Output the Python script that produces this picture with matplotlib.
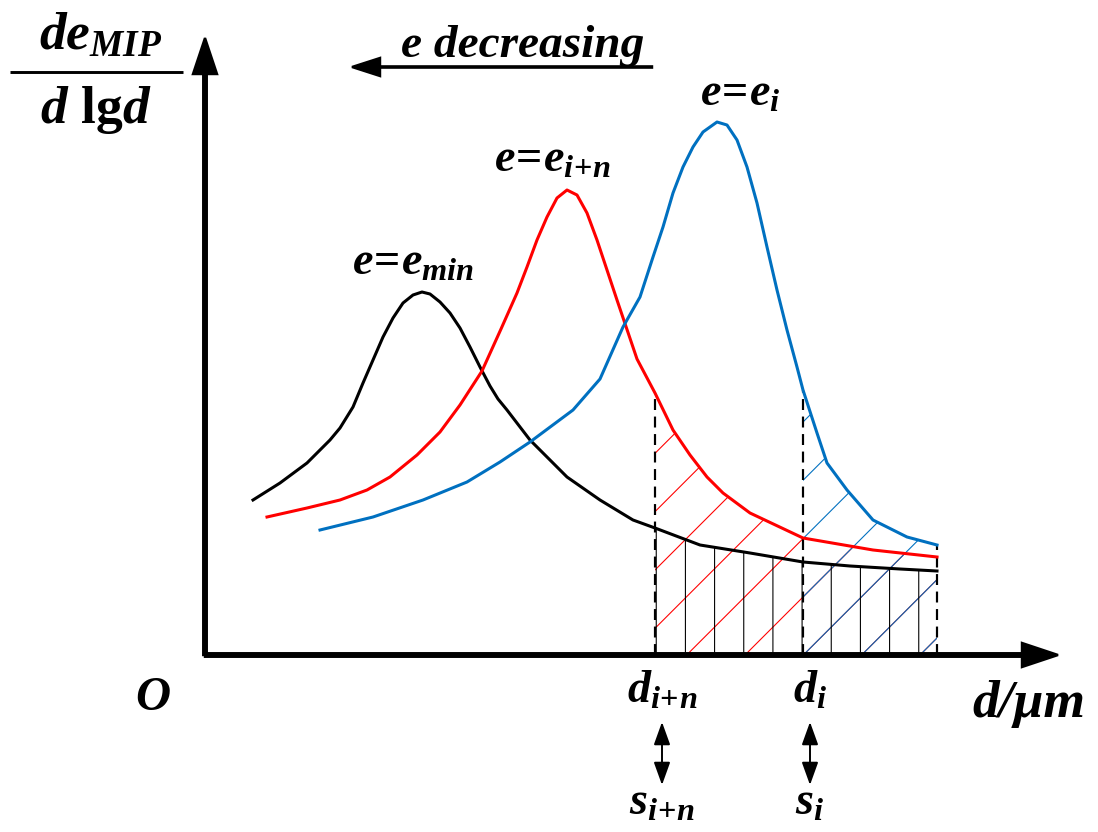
import numpy as np
import matplotlib
matplotlib.use("Agg")
from matplotlib import pyplot as plt

# schematic curves, x/y in drawing units (origin at the axes corner)
black_x = [48, 75, 102, 125, 135, 148, 158, 168, 178, 188, 198, 208, 217, 225, 235, 245,
           255, 265, 275, 285, 293, 302, 325, 362, 395, 428, 450, 495, 545, 598, 645,
           695, 732]
black_y = [155, 172, 192, 215, 227, 248, 272, 295, 318, 337, 352, 360, 363, 361, 353, 342,
           327, 308, 288, 269, 256, 245, 215, 178, 155, 135, 127, 110, 102, 93, 89,
           86, 84]

red_x = [62, 102, 135, 162, 185, 212, 235, 255, 277, 296, 312, 322, 332, 342, 352, 362,
         372, 382, 392, 402, 412, 432, 450, 468, 485, 502, 518, 545, 598, 668, 732]
red_y = [138, 147, 155, 165, 178, 200, 223, 250, 284, 326, 362, 388, 415, 438, 457, 465,
         460, 442, 415, 385, 355, 296, 262, 225, 200, 178, 162, 142, 117, 105, 98]

blue_x = [115, 168, 218, 262, 295, 325, 368, 395, 418, 435, 448, 458, 468, 478, 488, 498,
          512, 522, 532, 542, 552, 562, 572, 582, 592, 598, 612, 622, 642, 668, 702, 732]
blue_y = [125, 138, 155, 173, 193, 213, 245, 276, 328, 358, 398, 428, 462, 488, 508, 523,
          533, 530, 515, 488, 452, 408, 365, 325, 288, 265, 222, 192, 165, 135, 118, 110]

d_i_n = 450   # d_{i+n}
d_i = 598     # d_i
d_end = 732

RED = "#FF0000"
BLUE = "#0070C0"

plt.rcParams.update({
    "font.family": ["Liberation Serif", "DejaVu Serif"],
    "font.weight": "bold",
    "font.style": "normal",
    "mathtext.fontset": "custom",
    "mathtext.rm": "Liberation Serif:style=normal:weight=bold",
    "mathtext.it": "Liberation Serif:style=italic:weight=bold",
    "mathtext.bf": "Liberation Serif:style=normal:weight=bold",
    "hatch.linewidth": 0.45,
})
IT = dict(fontstyle="italic", fontweight="bold")

fig = plt.figure(figsize=(1098 / 175, 832 / 175), dpi=175)
ax = fig.add_axes([0, 0, 1, 1])
ax.set_xlim(-205, 893)
ax.set_ylim(-177, 655)
ax.axis("off")

bx, by = np.array(black_x), np.array(black_y)
rx, ry = np.array(red_x), np.array(red_y)
ux, uy = np.array(blue_x), np.array(blue_y)


def hatch_under(x, y, lo, hi, color, hatch):
    m = (x >= lo) & (x <= hi)
    xs, ys = x[m], y[m]
    px = np.r_[xs, xs[::-1]]
    py = np.r_[ys, np.zeros(len(xs))]
    ax.fill(px, py, facecolor="none", edgecolor=color, linewidth=0, hatch=hatch, zorder=1)


# hatched areas
hatch_under(rx, ry, d_i_n, d_end, RED, "/")
hatch_under(ux, uy, d_i, d_end, BLUE, "/")
hatch_under(bx, by, d_i_n, d_end, "black", "|")

# dashed boundaries
for xv, yt in [(d_i_n, np.interp(d_i_n, rx, ry)), (d_i, np.interp(d_i, ux, uy)),
               (d_end, np.interp(d_end, ux, uy))]:
    ax.plot([xv, xv], [0, yt], color="black", lw=0.9, ls=(0, (5, 3)), zorder=2)

# curves
ax.plot(bx, by, color="black", lw=1.25, zorder=3, solid_joinstyle="round")
ax.plot(rx, ry, color=RED, lw=1.25, zorder=3, solid_joinstyle="round")
ax.plot(ux, uy, color=BLUE, lw=1.25, zorder=3, solid_joinstyle="round")

# axes with arrows
ax.arrow(0, 0, 0, 617, width=3.5, head_width=24, head_length=36,
         length_includes_head=True, color="black", zorder=4)
ax.arrow(0, 0, 853, 0, width=3.5, head_width=24, head_length=36,
         length_includes_head=True, color="black", zorder=4)

# "e decreasing" arrow
ax.arrow(447, 588, -300, 0, width=1.2, head_width=18, head_length=28,
         length_includes_head=True, color="black")
ax.text(318, 598, "e decreasing", fontsize=19.5, ha="center", va="baseline", **IT)

# curve labels
ax.text(495, 549, r"$e\!=\!e_i$", fontsize=19, ha="left", va="baseline")
ax.text(289, 483, r"$e\!=\!e_{i\!+\!n}$", fontsize=19, ha="left", va="baseline")
ax.text(147, 380, r"$e\!=\!e_{min}$", fontsize=19, ha="left", va="baseline")

# y label as a fraction
ax.text(-104, 605, r"$de_{MIP}$", fontsize=22, ha="center", va="baseline")
ax.text(-109, 532, r"$d\ \mathrm{lg}d$", fontsize=22, ha="center", va="baseline")
ax.plot([-195, -22], [583, 583], color="black", lw=1.2, solid_capstyle="butt")

# origin and x label
ax.text(-52, -43, "O", fontsize=20, ha="center", va="center", **IT)
ax.text(767, -62, "d/μm", fontsize=22, ha="left", va="baseline", **IT)

# d / s labels with double arrows
for xv, sub in [(d_i_n, r"i\!+\!n"), (d_i, "i")]:
    xc = xv + 7
    ax.text(xc, -48, r"$d_{%s}$" % sub, fontsize=19, ha="center", va="baseline")
    ax.text(xc, -160, r"$s_{%s}$" % sub, fontsize=19, ha="center", va="baseline")
    ax.annotate("", xy=(xc, -67), xytext=(xc, -130),
                arrowprops=dict(arrowstyle="<|-|>,head_length=0.5,head_width=0.18",
                                color="black", lw=0.8, mutation_scale=16,
                                shrinkA=0, shrinkB=0))

fig.savefig("out.png", dpi=175)
